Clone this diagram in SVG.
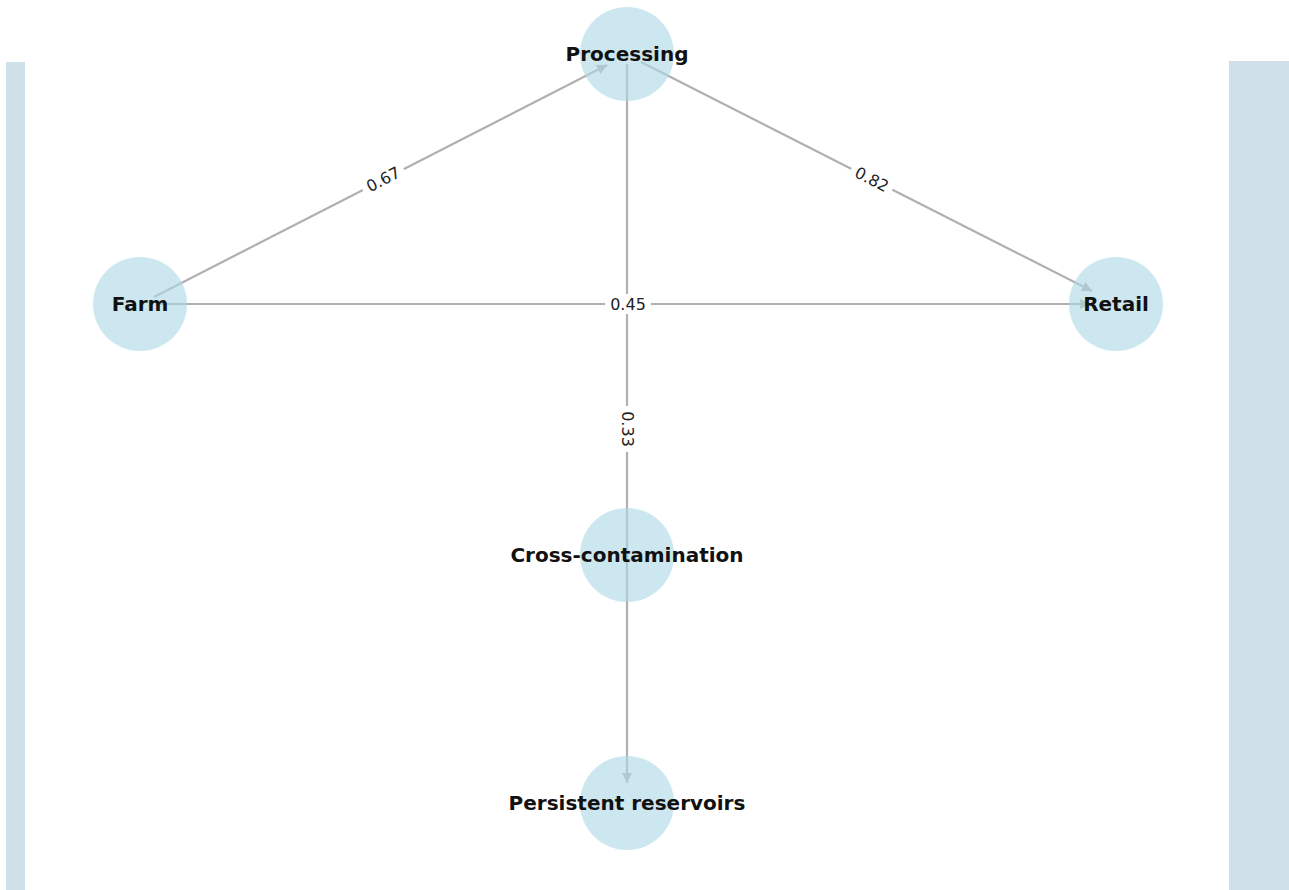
<svg xmlns="http://www.w3.org/2000/svg" width="1289" height="890" viewBox="0 0 1289 890">
<style>
.bar{fill:#cfe0e8}
.edge{stroke:#b0b0b0;stroke-width:2.2;fill:none}
.node circle{fill:#add8e6;fill-opacity:0.62}
.node text{font-family:"DejaVu Sans",sans-serif;font-weight:bold;font-size:20px;fill:#111;text-anchor:middle}
.elab rect{fill:#fff}
.elab text{font-family:"DejaVu Sans",sans-serif;font-size:16px;fill:#222;text-anchor:middle}
</style>
<defs>
<marker id="arr" viewBox="0 0 10 10" refX="10" refY="5" markerWidth="4.5" markerHeight="4.5" orient="auto" markerUnits="strokeWidth">
<path d="M0,0 L10,5 L0,10 z" fill="#b0b0b0"/>
</marker>
</defs>
<rect width="1289" height="890" fill="#fff"/>
<rect class="bar" x="6" y="62" width="19" height="828"/>
<rect class="bar" x="1229" y="61" width="60" height="829"/>
<g id="connectors">
<line class="edge" x1="154" y1="297" x2="607" y2="65" marker-end="url(#arr)"/>
<line class="edge" x1="641" y1="62" x2="1092" y2="291" marker-end="url(#arr)"/>
<line class="edge" x1="156" y1="304" x2="1090" y2="304" marker-end="url(#arr)"/>
<line class="edge" x1="627" y1="64" x2="627" y2="783" marker-end="url(#arr)"/>
</g>
<g id="node-processing" class="node"><circle cx="627" cy="54" r="47"/><text x="627" y="61">Processing</text></g>
<g id="node-farm" class="node"><circle cx="140" cy="304" r="47"/><text x="140" y="311">Farm</text></g>
<g id="node-retail" class="node"><circle cx="1116" cy="304" r="47"/><text x="1116" y="311">Retail</text></g>
<g id="node-cross" class="node"><circle cx="627" cy="555" r="47"/><text x="627" y="562">Cross-contamination</text></g>
<g id="node-persistent" class="node"><circle cx="627" cy="803" r="47"/><text x="627" y="810">Persistent reservoirs</text></g>
<g id="edge-labels" class="elab">
<g transform="translate(383,179) rotate(-27.1)"><rect x="-23" y="-10" width="46" height="20"/><text x="0" y="6">0.67</text></g>
<g transform="translate(872,179) rotate(27)"><rect x="-23" y="-10" width="46" height="20"/><text x="0" y="6">0.82</text></g>
<g transform="translate(628,304)"><rect x="-23" y="-10" width="46" height="20"/><text x="0" y="6">0.45</text></g>
<g transform="translate(628,429) rotate(90)"><rect x="-23" y="-10" width="46" height="20"/><text x="0" y="6">0.33</text></g>
</g>
</svg>
